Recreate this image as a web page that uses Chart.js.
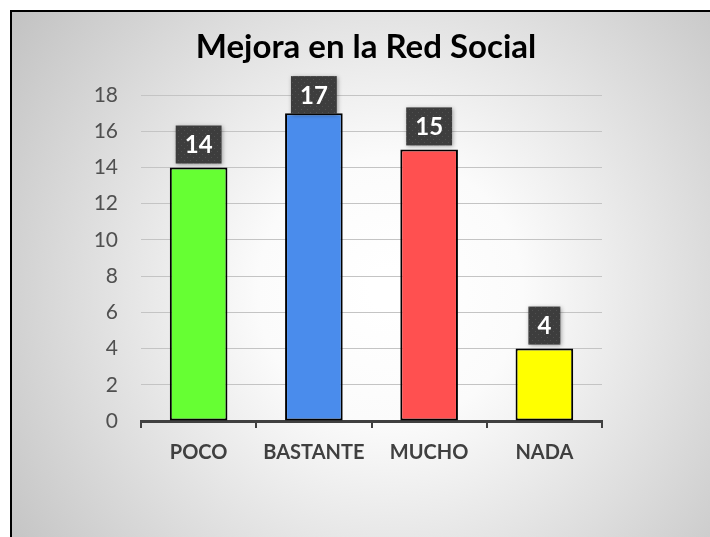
<!DOCTYPE html>
<html>
<head>
<meta charset="utf-8">
<script src="https://cdn.jsdelivr.net/npm/chart.js@4"></script>
<style>
html,body{margin:0;padding:0;background:#fff;}
#wrap{width:710px;height:537px;position:relative;}
</style>
</head>
<body>
<div id="wrap"><canvas id="c" width="710" height="537"></canvas></div>
<script>
const categories = ["POCO", "BASTANTE", "MUCHO", "NADA"];
const values = [14, 17, 15, 4];
const barColors = ["#66ff33", "#4a8cec", "#ff5050", "#ffff00"];
const yTicks = [0, 2, 4, 6, 8, 10, 12, 14, 16, 18];
const titleText = "Mejora en la Red Social";

const bgPlugin = {
  id: 'bg',
  beforeDraw(chart) {
    const ctx = chart.ctx;
    ctx.save();
    ctx.fillStyle = '#ffffff';
    ctx.fillRect(0, 0, chart.width, chart.height);
    const g = ctx.createRadialGradient(390, 290, 20, 390, 290, 470);
    g.addColorStop(0, '#ffffff');
    g.addColorStop(0.25, '#fbfbfb');
    g.addColorStop(1, '#c2c2c2');
    ctx.fillStyle = g;
    ctx.fillRect(11, 11, chart.width - 11, chart.height - 11);
    ctx.strokeStyle = '#000';
    ctx.lineWidth = 2;
    ctx.beginPath();
    ctx.moveTo(11, chart.height);
    ctx.lineTo(11, 11);
    ctx.lineTo(chart.width, 11);
    ctx.stroke();
    ctx.restore();
  }
};

let dotPattern = null;
function getPattern(ctx) {
  if (dotPattern) return dotPattern;
  const pc = document.createElement('canvas');
  pc.width = 6; pc.height = 6;
  const p = pc.getContext('2d');
  p.fillStyle = '#3d3d3d';
  p.fillRect(0, 0, 6, 6);
  p.fillStyle = '#505050';
  p.fillRect(1, 1, 1, 1);
  p.fillRect(4, 4, 1, 1);
  dotPattern = ctx.createPattern(pc, 'repeat');
  return dotPattern;
}

const labelPlugin = {
  id: 'boxLabels',
  afterDatasetsDraw(chart) {
    const ctx = chart.ctx;
    const meta = chart.getDatasetMeta(0);
    ctx.save();
    ctx.font = 'bold 24px Lato';
    meta.data.forEach((bar, i) => {
      const txt = String(values[i]);
      const tw = ctx.measureText(txt).width;
      const w = tw + 18;
      const h = 38;
      let top = bar.y - 4 - h;
      const minTop = chart.chartArea.top - 19;
      if (top < minTop) top = minTop;
      const left = bar.x - w / 2;
      ctx.shadowColor = 'rgba(0,0,0,0.35)';
      ctx.shadowBlur = 4;
      ctx.shadowOffsetX = 1;
      ctx.shadowOffsetY = 1;
      ctx.fillStyle = getPattern(ctx);
      ctx.fillRect(left, top, w, h);
      ctx.shadowColor = 'transparent';
      ctx.fillStyle = '#ffffff';
      ctx.textAlign = 'center';
      ctx.textBaseline = 'middle';
      ctx.fillText(txt, bar.x, top + h / 2 + 1);
    });
    ctx.restore();
  }
};

new Chart(document.getElementById('c'), {
  type: 'bar',
  data: {
    labels: categories,
    datasets: [{
      data: values,
      backgroundColor: barColors,
      borderColor: '#000000',
      borderWidth: 2,
      borderSkipped: false,
      categoryPercentage: 1.0,
      barPercentage: 0.5
    }]
  },
  options: {
    responsive: false,
    animation: false,
    devicePixelRatio: 1,
    layout: { padding: { left: 22, right: 0, top: 28, bottom: 0 } },
    plugins: {
      legend: { display: false },
      tooltip: { enabled: false },
      title: {
        display: true,
        text: titleText,
        color: '#000000',
        font: { family: 'Lato', size: 33, weight: 'bold' },
        padding: { top: 0, bottom: 27.5 }
      }
    },
    scales: {
      x: {
        offset: true,
        afterFit(s) { s.height = 116; },
        grid: {
          display: true,
          offset: true,
          drawOnChartArea: false,
          drawTicks: true,
          tickLength: 7,
          color: '#404040',
          lineWidth: 2
        },
        border: { display: true, color: '#404040', width: 3 },
        ticks: {
          color: '#404040',
          padding: 13,
          font: { family: 'Lato', size: 20, weight: 'bold' }
        }
      },
      y: {
        min: 0,
        max: 18,
        afterFit(s) { s.width = 119; },
        afterBuildTicks(s) { s.ticks = yTicks.map(v => ({ value: v })); },
        grid: { color: '#c4c4c4', lineWidth: 1, drawTicks: false },
        border: { display: false },
        ticks: {
          stepSize: 2,
          color: '#505050',
          padding: 23,
          font: { family: 'Lato', size: 21 }
        }
      },
      yRight: {
        position: 'right',
        min: 0,
        max: 18,
        afterFit(s) { s.width = 108; },
        grid: { display: false, drawOnChartArea: false },
        border: { display: false },
        ticks: { display: false }
      }
    }
  },
  plugins: [bgPlugin, labelPlugin]
});
</script>
</body>
</html>
